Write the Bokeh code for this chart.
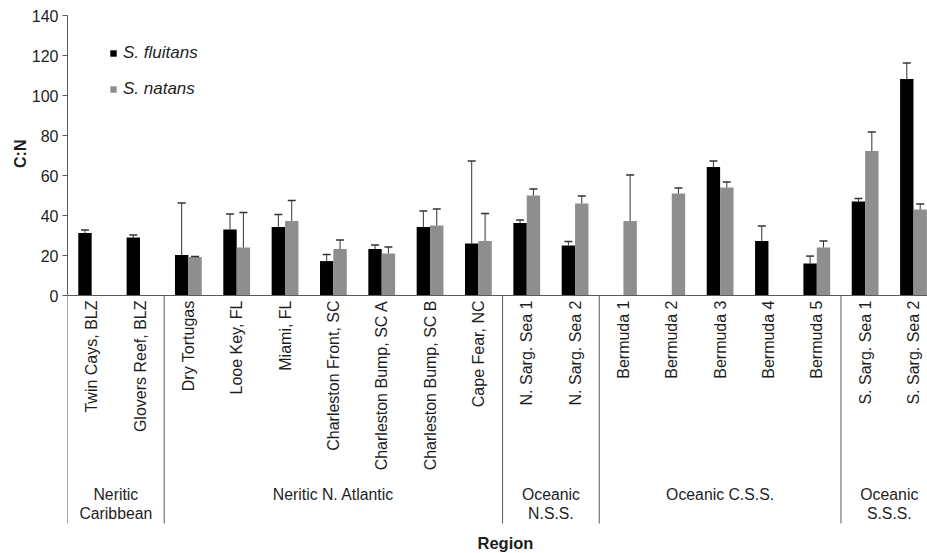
import numpy as np
from bokeh.plotting import figure
from bokeh.models import (ColumnDataSource, Range1d, FixedTicker, Whisker, TeeHead,
                          Legend, LegendItem, Span, Title)
from bokeh.core.properties import value
from bokeh.embed import file_html
from bokeh.resources import INLINE

# ---------------- data ----------------
sites = ["Twin Cays, BLZ", "Glovers Reef, BLZ", "Dry Tortugas", "Looe Key, FL", "Miami, FL",
         "Charleston Front, SC", "Charleston Bump, SC A", "Charleston Bump, SC B", "Cape Fear, NC",
         "N. Sarg. Sea 1", "N. Sarg. Sea 2", "Bermuda 1", "Bermuda 2", "Bermuda 3", "Bermuda 4",
         "Bermuda 5", "S. Sarg. Sea 1", "S. Sarg. Sea 2"]
fluitans = [31.2, 29.0, 20.2, 33.0, 34.2, 17.2, 23.2, 34.2, 26.0, 36.2, 25.0,
            None, None, 64.2, 27.2, 16.0, 47.0, 108.2]
fluitans_err = [1.5, 1.3, 26.0, 7.8, 6.3, 3.3, 2.1, 8.0, 41.3, 1.6, 2.0,
                None, None, 3.1, 7.6, 3.7, 1.5, 8.1]
natans = [None, None, 19.2, 24.0, 37.3, 23.2, 21.0, 35.0, 27.2, 50.0, 46.0,
          37.2, 51.0, 54.0, None, 24.0, 72.2, 43.0]
natans_err = [None, None, 0.3, 17.5, 10.2, 4.5, 3.3, 8.2, 13.8, 3.3, 3.7,
              23.0, 2.8, 2.7, None, 3.2, 9.5, 2.7]
group_names = [["Neritic", "Caribbean"], ["Neritic N. Atlantic"], ["Oceanic", "N.S.S."],
               ["Oceanic C.S.S."], ["Oceanic", "S.S.S."]]
group_sizes = [2, 7, 2, 5, 2]
y_ticks = [0, 20, 40, 60, 80, 100, 120, 140]
series_names = ["S. fluitans", "S. natans"]
x_title = "Region"
y_title = "C:N"

# ---------------- styling ----------------
FONT = value("Liberation Sans")
LINE = "#5a5a5a"
TXT = "#1e1e1e"
BAR_W = 0.277
Y_MIN = -129
SEP_MIN = -114

p = figure(width=927, height=553, output_backend="svg", toolbar_location=None,
           x_range=Range1d(0, 17.79), y_range=Range1d(Y_MIN, 140),
           x_axis_location=None, min_border_left=67, min_border_right=0,
           min_border_top=15, min_border_bottom=0)
p.outline_line_color = None
p.grid.visible = False
p.background_fill_color = "white"

yax = p.yaxis[0]
yax.ticker = FixedTicker(ticks=y_ticks)
yax.bounds = (0, 140)
yax.axis_line_color = LINE
yax.major_tick_line_color = LINE
yax.major_tick_out = 5
yax.major_tick_in = 0
yax.minor_tick_line_color = None
yax.major_label_text_font = "Liberation Sans"
yax.major_label_text_font_size = "16px"
yax.major_label_text_color = TXT
yax.major_label_standoff = 4

# y axis title, placed beside the 0-140 part of the axis
p.add_layout(Title(text=y_title, align="right", offset=124, standoff=0,
                   text_font="Liberation Sans", text_font_size="16px",
                   text_font_style="bold", text_color=TXT), "left")

n = len(sites)
centers = [i + 0.5 for i in range(n)]


def build(vals, errs, offset):
    xs, tops, lows, ups = [], [], [], []
    for c, v, e in zip(centers, vals, errs):
        if v is None:
            continue
        xs.append(c + offset)
        tops.append(v)
        lows.append(v)
        ups.append(v + (e or 0))
    return ColumnDataSource(dict(x=xs, top=tops, lower=lows, upper=ups))


src_f = build(fluitans, fluitans_err, -BAR_W / 2)
src_n = build(natans, natans_err, BAR_W / 2)

r_f = p.vbar(x="x", top="top", width=BAR_W, bottom=0, source=src_f,
             fill_color="#000000", line_color=None)
r_n = p.vbar(x="x", top="top", width=BAR_W, bottom=0, source=src_n,
             fill_color="#8e8e8e", line_color=None)

for src in (src_f, src_n):
    w = Whisker(base="x", lower="lower", upper="upper", source=src, dimension="height",
                line_color="#333333", line_width=1,
                upper_head=TeeHead(size=8, line_color="#333333", line_width=1.5),
                lower_head=None, level="overlay")
    p.add_layout(w)

# x axis line
p.add_layout(Span(location=0, dimension="width", line_color=LINE, line_width=1))

# group separators
bounds = np.concatenate([[0], np.cumsum(group_sizes)])
ng = len(group_sizes)
p.segment(x0=bounds[:-1], y0=[0] * ng, x1=bounds[:-1], y1=[SEP_MIN] * ng,
          line_color=LINE, line_width=1)

# site labels
p.text(x=centers, y=[-2.5] * n, text=sites, angle=np.pi / 2, text_align="right",
       text_baseline="middle", text_font=FONT, text_font_size="16px", text_color=TXT)

# group labels
gx1, gt1, gx2, gt2 = [], [], [], []
for k, names in enumerate(group_names):
    mid = (bounds[k] + bounds[k + 1]) / 2
    gx1.append(mid)
    gt1.append(names[0])
    if len(names) > 1:
        gx2.append(mid)
        gt2.append(names[1])
p.text(x=gx1, y=[-99.5] * len(gx1), text=gt1, text_align="center", text_baseline="middle",
       text_font=FONT, text_font_size="15.8px", text_color=TXT)
p.text(x=gx2, y=[-109] * len(gx2), text=gt2, text_align="center", text_baseline="middle",
       text_font=FONT, text_font_size="15.8px", text_color=TXT)

# x axis title
p.text(x=[9.06], y=[-123.5], text=[x_title], text_align="center", text_baseline="middle",
       text_font=FONT, text_font_size="16.5px", text_font_style="bold", text_color=TXT)

legend = Legend(items=[LegendItem(label=series_names[0], renderers=[r_f]),
                       LegendItem(label=series_names[1], renderers=[r_n])],
                location=(42, 454), orientation="vertical",
                glyph_width=8, glyph_height=8, label_standoff=6, spacing=16,
                padding=0, margin=0, border_line_color=None, background_fill_alpha=0,
                label_text_font="Liberation Sans", label_text_font_size="17px",
                label_text_font_style="italic", label_text_color=TXT)
p.add_layout(legend)

open("out.html", "w").write(file_html(p, INLINE))
